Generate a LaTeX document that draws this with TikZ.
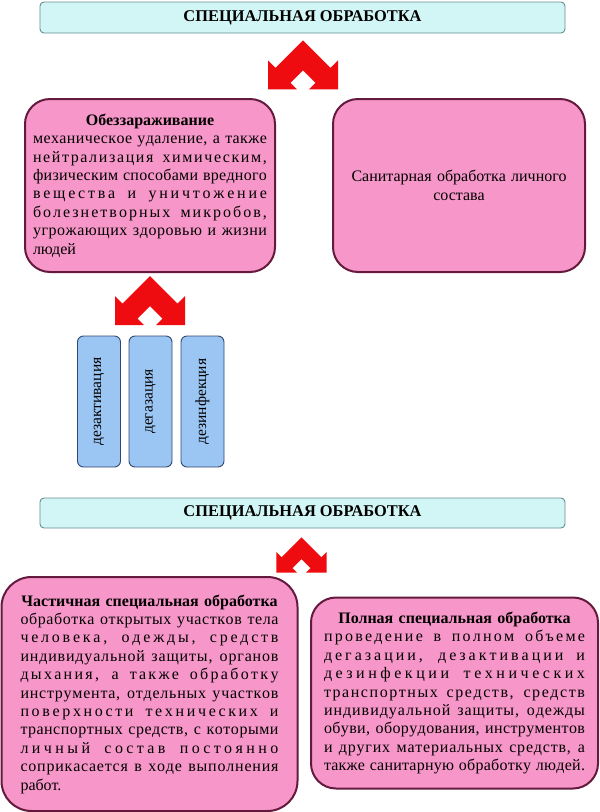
\documentclass[tikz,border=0pt]{standalone}
\usepackage{fontspec}
\setmainfont{Liberation Serif}
\usepackage{xcolor}
\usetikzlibrary{calc}

\definecolor{pinkfill}{RGB}{247,150,200}
\definecolor{pinkline}{RGB}{100,26,60}
\definecolor{cyanfill}{RGB}{210,246,246}
\definecolor{cyanline}{RGB}{100,140,145}
\definecolor{bluefill}{RGB}{155,197,243}
\definecolor{blueline}{RGB}{50,72,112}
\definecolor{arrowred}{RGB}{238,12,16}

% spread a line over the whole width, letters and words
\XeTeXinterchartoks 0 0 = {\hskip 0pt plus 1fil\relax}
\newcommand{\jl}[1]{\leavevmode\hbox to\hsize{\XeTeXinterchartokenstate=1
    \spaceskip=0.25em plus 3fil\relax #1}}
\newcommand{\hl}[1]{\leavevmode\hbox to\hsize{\hss\bfseries #1\hss}}
\newcommand{\redarrow}[2]{%
\fill [arrowred, shift={(#1)}, scale=#2]
    (0,0) -- (-27.5,27.5) -- (-35,20) -- (-35,49) -- (-6,49) -- (-12.5,42.5) --
    (0,30) -- (12.5,42.5) -- (6,49) -- (35,49) -- (35,20) -- (27.5,27.5) -- cycle;
}
\tikzstyle{titlebox} = [draw=cyanline, fill=cyanfill, line width=0.9pt,
rectangle, rounded corners=4pt, minimum width=525pt,
font=\bfseries\fontsize{16.4}{18}\selectfont]
\tikzstyle{pinkbox} = [draw=pinkline, fill=pinkfill, line width=2pt,
rectangle, rounded corners=25pt, align=left,
font=\fontsize{16}{18.4}\selectfont]
\tikzstyle{bluebox} = [draw=blueline, fill=bluefill, line width=0.9pt,
rectangle, rounded corners=6pt, rotate=90, minimum width=131pt,
minimum height=43pt, font=\fontsize{15.5}{17}\selectfont]

\begin{document}
\begin{tikzpicture}[x=1pt, y=-1pt]
        \useasboundingbox (0,0) rectangle (600,812);
        \node [titlebox, minimum height=31pt] (title1) at (302.5,17.5) {СПЕЦИАЛЬНАЯ ОБРАБОТКА};
        \node [pinkbox, text width=234pt, inner xsep=8pt, minimum height=173pt] (obezz) at (150,185.5) {%
            \hl{Обеззараживание}\\
            \jl{механическое удаление, а также}\\
            \jl{нейтрализация химическим,}\\
            \jl{физическим способами вредного}\\
            \jl{вещества и уничтожение}\\
            \jl{болезнетворных микробов,}\\
            \jl{угрожающих здоровью и жизни}\\
            людей
        };
        \node [pinkbox, align=center, text width=230pt, inner xsep=11pt, minimum height=173pt] (sanit) at (459,185.5) {%
            Санитарная обработка личного\\
            состава
        };
        \redarrow{$(title1.south)+(0.5,7)$}{1}
        \redarrow{$(obezz.south)+(0,3)$}{1}
        \node [bluebox] (dezakt) at (99,401.5) {дезактивация};
        \node [bluebox] (degaz) at (150.5,401.5) {дегазация};
        \node [bluebox] (dezinf) at (202.5,401.5) {дезинфекция};
        \node [titlebox, minimum height=30pt] (title2) at (302.5,513) {СПЕЦИАЛЬНАЯ ОБРАБОТКА};
        \redarrow{$(title2.south)+(-1,9)$}{0.72}
        \node [pinkbox, text width=258pt, inner xsep=19pt, minimum height=234pt, rounded corners=30pt] (chast) at (149.5,694) {%
            \hl{Частичная специальная обработка}\\
            \jl{обработка открытых участков тела}\\
            \jl{человека, одежды, средств}\\
            \jl{индивидуальной защиты, органов}\\
            \jl{дыхания, а также обработку}\\
            \jl{инструмента, отдельных участков}\\
            \jl{поверхности технических и}\\
            \jl{транспортных средств, с которыми}\\
            \jl{личный состав постоянно}\\
            \jl{соприкасается в ходе выполнения}\\
            работ.
        };
        \node [pinkbox, text width=261pt, inner xsep=13pt, minimum height=191pt] (poln) at (454.5,693) {%
            \hl{Полная специальная обработка}\\
            \jl{проведение в полном объеме}\\
            \jl{дегазации, дезактивации и}\\
            \jl{дезинфекции технических}\\
            \jl{транспортных средств, средств}\\
            \jl{индивидуальной защиты, одежды}\\
            \jl{обуви, оборудования, инструментов}\\
            \jl{и других материальных средств, а}\\
            \jl{также санитарную обработку людей.}
        };
    \end{tikzpicture}
\end{document}
